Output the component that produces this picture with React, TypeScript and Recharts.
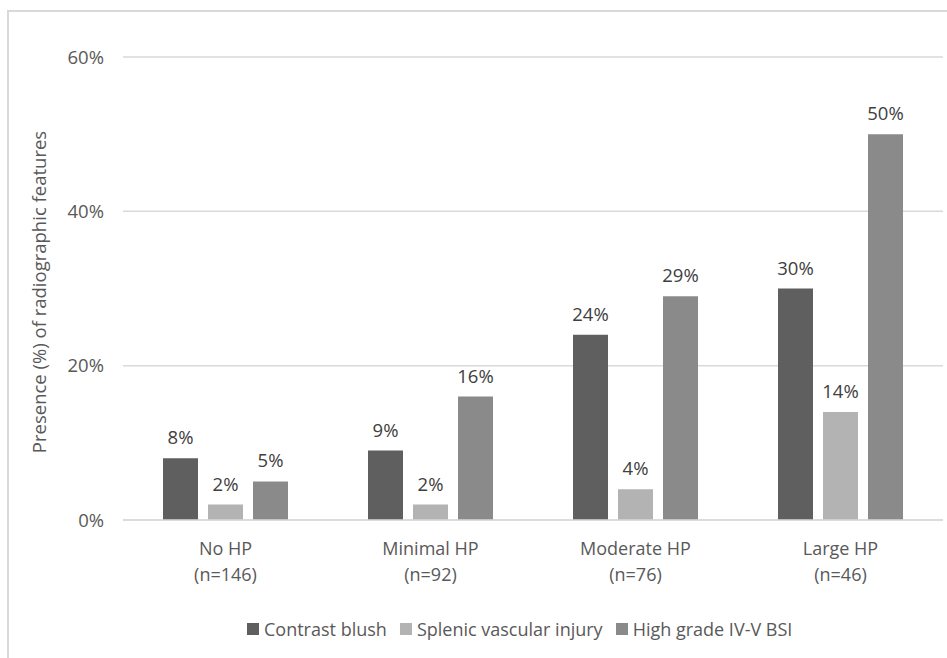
import React from "react";
import { BarChart, Bar, XAxis, YAxis, CartesianGrid, Legend, LabelList, Label } from "recharts";

const categories = ["No HP", "Minimal HP", "Moderate HP", "Large HP"];
const counts = ["(n=146)", "(n=92)", "(n=76)", "(n=46)"];
const contrastBlush = [8, 9, 24, 30];
const splenicVascular = [2, 2, 4, 14];
const highGrade = [5, 16, 29, 50];
const yTicks = [0, 20, 40, 60];

const seriesNames = ["Contrast blush", "Splenic vascular injury", "High grade IV-V BSI"];
const seriesColors = ["#5f5f5f", "#b3b3b3", "#8a8a8a"];

const data = categories.map((c, i) => ({
  name: c,
  n: counts[i],
  cb: contrastBlush[i],
  sv: splenicVascular[i],
  hg: highGrade[i],
}));

const FONT = "'Open Sans', Lato, sans-serif";

const XTick = (props: any) => {
  const { x, y, payload, index } = props;
  const row = data[payload.index ?? index] || data.find((d) => d.name === payload.value);
  return (
    <text x={x} textAnchor="middle" fill="#595959" fontSize={18} fontFamily={FONT}>
      <tspan x={x} y={y + 35}>{payload.value}</tspan>
      <tspan x={x} y={y + 61}>{row ? row.n : ""}</tspan>
    </text>
  );
};

const LegendContent = () => (
  <div
    style={{
      display: "flex",
      justifyContent: "flex-start",
      alignItems: "center",
      fontFamily: FONT,
      fontSize: 18,
      color: "#595959",
      gap: 13,
      paddingLeft: 247,
      whiteSpace: "nowrap",
    }}
  >
    {seriesNames.map((n, i) => (
      <div key={n} style={{ display: "flex", alignItems: "center" }}>
        <span style={{ display: "inline-block", width: 12, height: 12, background: seriesColors[i], marginRight: 5 }} />
        <span>{n}</span>
      </div>
    ))}
  </div>
);

const labelStyle = { fill: "#404040", fontSize: 18.5, fontFamily: FONT };

export default function App() {
  return (
    <div style={{ position: "absolute", left: 0, top: 0, width: 947, height: 658, background: "#fff", overflow: "hidden" }}>
      <div
        style={{
          position: "absolute",
          left: 7,
          top: 10,
          width: 960,
          height: 700,
          borderLeft: "2px solid #d9d9d9",
          borderTop: "2px solid #d9d9d9",
        }}
      />
      <div style={{ position: "absolute", left: 0, top: 0 }}>
        <BarChart
          width={947}
          height={658}
          data={data}
          margin={{ top: 57, right: 4, left: 53, bottom: 78 }}
          barSize={35}
          barGap={10}
        >
          <CartesianGrid vertical={false} stroke="#d9d9d9" strokeWidth={1.5} />
          <XAxis
            dataKey="name"
            height={60}
            tickLine={false}
            tickSize={0}
            tickMargin={0}
            axisLine={{ stroke: "#d9d9d9", strokeWidth: 1.5 }}
            tick={<XTick />}
            interval={0}
          />
          <YAxis
            width={70}
            domain={[0, 60]}
            ticks={yTicks}
            axisLine={false}
            tickLine={false}
            tickSize={0}
            tickMargin={19}
            tickFormatter={(v: number) => `${v}%`}
            tick={{ fill: "#595959", fontSize: 18.5, fontFamily: FONT }}
          >
            <Label
              content={() => (
                <text
                  transform="translate(38,292) rotate(-90)"
                  textAnchor="middle"
                  dominantBaseline="central"
                  fill="#595959"
                  fontSize={18.5}
                  fontFamily={FONT}
                >
                  Presence (%) of radiographic features
                </text>
              )}
            />
          </YAxis>
          <Legend
            layout="horizontal"
            verticalAlign="middle"
            align="center"
            content={<LegendContent />}
            wrapperStyle={{ top: 617, left: 0, width: 947, height: 26 }}
          />
          <Bar dataKey="cb" name={seriesNames[0]} fill={seriesColors[0]} isAnimationActive={false}>
            <LabelList dataKey="cb" position="top" offset={14} formatter={(v: any) => `${v}%`} style={labelStyle} />
          </Bar>
          <Bar dataKey="sv" name={seriesNames[1]} fill={seriesColors[1]} isAnimationActive={false}>
            <LabelList dataKey="sv" position="top" offset={14} formatter={(v: any) => `${v}%`} style={labelStyle} />
          </Bar>
          <Bar dataKey="hg" name={seriesNames[2]} fill={seriesColors[2]} isAnimationActive={false}>
            <LabelList dataKey="hg" position="top" offset={14} formatter={(v: any) => `${v}%`} style={labelStyle} />
          </Bar>
        </BarChart>
      </div>
    </div>
  );
}
